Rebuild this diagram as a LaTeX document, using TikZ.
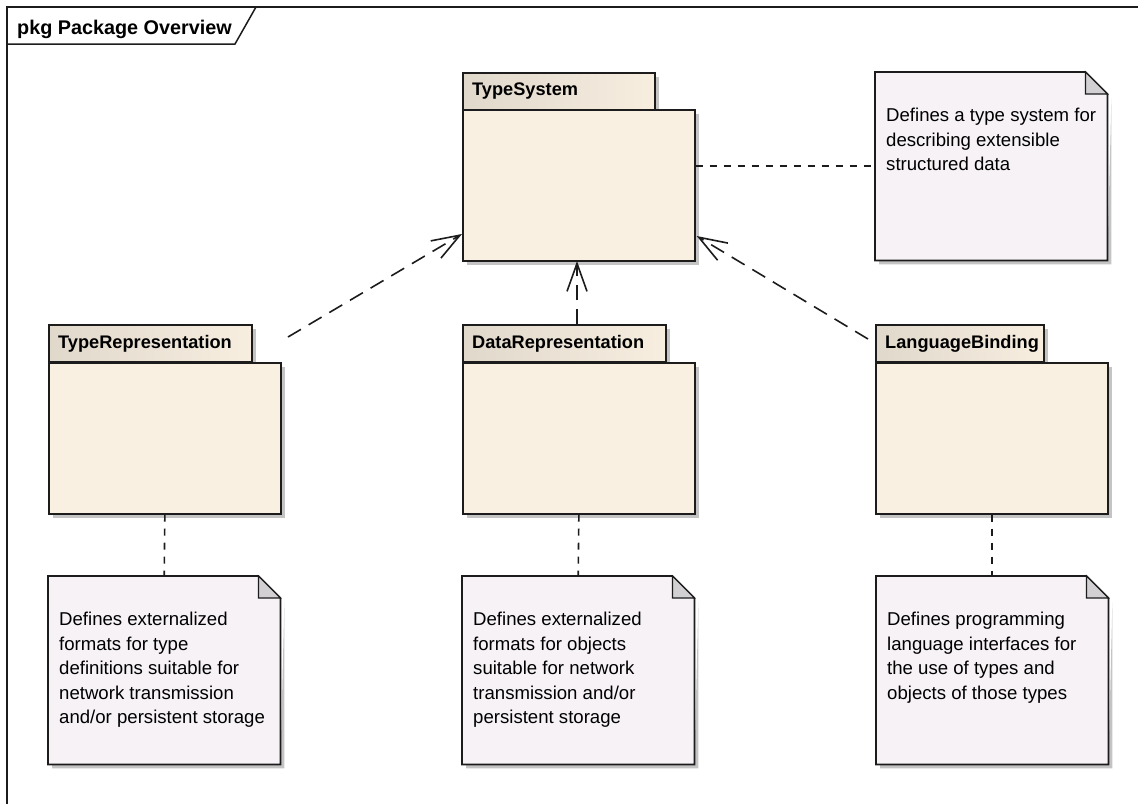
\documentclass[tikz,border=0pt]{standalone}
\usepackage{fontspec}
\setmainfont{Liberation Sans}
\usetikzlibrary{arrows.meta,calc}
\definecolor{pkgfill}{HTML}{F9F0E2}
\definecolor{tabl}{HTML}{E0D8CB}
\definecolor{tabr}{HTML}{F7EEE0}
\definecolor{notefill}{HTML}{F6F2F6}
\definecolor{foldfill}{HTML}{D3D0D4}
\definecolor{shad}{HTML}{C4C4C4}
\definecolor{linec}{HTML}{1C1C1C}
\newcommand\drawnote[1]{%
  \fill[shad] ($(#1.north east)+(4,26)$) -- ($(#1.south east)+(4,4)$) -- ($(#1.south west)+(4,4)$) -- ($(#1.south west)+(4,0)$) -- ($(#1.south east)+(0,0)$) -- cycle;
  \draw[notebox] (#1.north west) -- ($(#1.north east)+(-22,0)$) -- ($(#1.north east)+(0,22)$) -- (#1.south east) -- (#1.south west) -- cycle;
  \draw[foldbox] ($(#1.north east)+(-22,0)$) -- ($(#1.north east)+(-22,22)$) -- ($(#1.north east)+(0,22)$) -- cycle;
}
\begin{document}
\begin{tikzpicture}[x=1pt,y=-1pt,
  shadowed/.style={preaction={fill=shad,transform canvas={shift={(4pt,-4pt)}}}},
  pkgbody/.style={shadowed,draw=linec,line width=1.7pt,fill=pkgfill,anchor=north west,inner sep=0pt,minimum width=232pt,minimum height=151pt},
  pkgtab/.style={shadowed,draw=linec,line width=1.7pt,left color=tabl,right color=tabr,anchor=north west,inner sep=0pt,minimum height=37pt},
  pkgname/.style={anchor=west,inner sep=0pt,font=\fontsize{18.2}{20}\selectfont\bfseries},
  noteshape/.style={anchor=north west,inner sep=0pt,minimum width=232pt,minimum height=188pt},
  notebox/.style={draw=linec,line width=1.7pt,fill=notefill},
  foldbox/.style={draw=linec,line width=1.2pt,fill=foldfill,line join=miter},
  notetext/.style={anchor=north west,inner sep=0pt,align=left,font=\fontsize{18.6}{24.5}\selectfont},
  notelink/.style={draw=linec,line width=1.6pt,dash pattern=on 7pt off 7pt},
  depend/.style={draw=linec,line width=1.6pt,dash pattern=on 15pt off 9pt,-{Straight Barb[length=28pt,width=20pt,line width=1.6pt]}},
  frameline/.style={draw=linec,line width=1.5pt}]
\useasboundingbox (0,0) rectangle (1138,804);
% frame
\draw[frameline] (7,804) -- (7,7) -- (1138,7);
\draw[frameline] (7,44) -- (235,44) -- (256,7);
\node[anchor=base west,inner sep=0pt,font=\fontsize{19.8}{21}\selectfont\bfseries] (title) at (17,34) {pkg Package Overview};
% packages
\node[pkgtab,minimum width=192pt] (tstab) at (462,72) {};
\node[pkgbody] (ts) at (462,109) {};
\node[pkgname] (tsname) at ($(tstab.west)+(10,0)$) {TypeSystem};
\node[pkgtab,minimum width=203pt] (trtab) at (48,324) {};
\node[pkgbody] (tr) at (48,362) {};
\node[pkgname] (trname) at ($(trtab.west)+(10,0)$) {TypeRepresentation};
\node[pkgtab,minimum width=203pt] (drtab) at (462,324) {};
\node[pkgbody] (dr) at (462,362) {};
\node[pkgname] (drname) at ($(drtab.west)+(10,0)$) {DataRepresentation};
\node[pkgtab,minimum width=168pt] (lbtab) at (875,324) {};
\node[pkgbody] (lb) at (875,362) {};
\node[pkgname] (lbname) at ($(lbtab.west)+(10,0)$) {LanguageBinding};
% notes
\node[noteshape] (n1) at (875,72) {};
\node[noteshape] (n2) at (48,576) {};
\node[noteshape] (n3) at (462,576) {};
\node[noteshape] (n4) at (876,576) {};
\drawnote{n1}
\drawnote{n2}
\drawnote{n3}
\drawnote{n4}
\node[notetext] (n1t) at ($(n1.north west)+(11,36)$) {Defines a type system for\\describing extensible\\structured data};
\node[notetext] (n2t) at ($(n2.north west)+(11,36)$) {Defines externalized\\formats for type\\definitions suitable for\\network transmission\\and/or persistent storage};
\node[notetext] (n3t) at ($(n3.north west)+(11,36)$) {Defines externalized\\formats for objects\\suitable for network\\transmission and/or\\persistent storage};
\node[notetext] (n4t) at ($(n4.north west)+(11,36)$) {Defines programming\\language interfaces for\\the use of types and\\objects of those types};
% note links
\coordinate (tsr) at ($(ts.north east)+(0,57)$);
\draw[notelink] (tsr) -- (tsr -| n1.west);
\draw[notelink] (tr.south) -- (n2.north);
\draw[notelink] (dr.south) -- (n3.north);
\draw[notelink] (lb.south) -- (lb.south |- n4.north);
% dependencies
\coordinate (a1s) at (288,337);
\coordinate (a1e) at ($(ts.north west)+(0,125)$);
\coordinate (a2s) at (577,324);
\coordinate (a2e) at (577,261);
\coordinate (a3s) at (868,339);
\coordinate (a3e) at ($(ts.north east)+(1,127)$);
\draw[depend] (a1s) -- (a1e);
\draw[depend] (a2s) -- (a2e);
\draw[depend] (a3s) -- (a3e);
\end{tikzpicture}
\end{document}
